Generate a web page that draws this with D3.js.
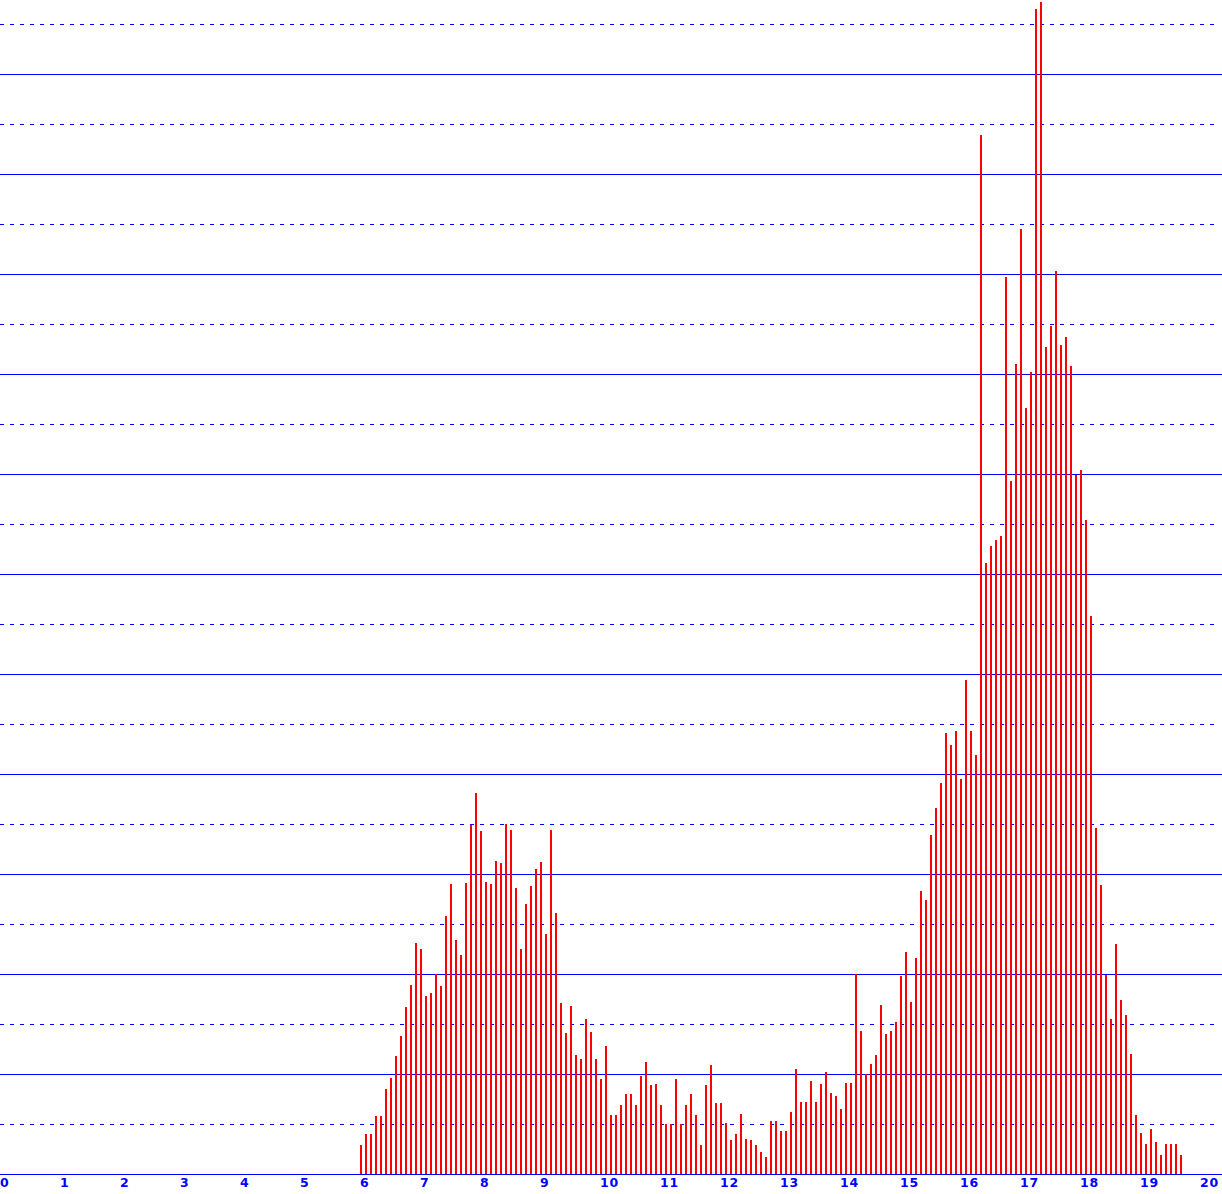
<!DOCTYPE html>
<html>
<head>
<meta charset="utf-8">
<script src="https://cdn.jsdelivr.net/npm/d3@7"></script>
<style>
  html, body { margin: 0; padding: 0; background: #ffffff; }
  svg { display: block; }
</style>
</head>
<body>
<script>
// ---- data ----
const startX = 6;            // first bin position
const binStep = 1 / 12;      // bin width in x units
const values = [
  0.58, 0.8, 0.8, 1.16, 1.16, 1.7, 1.92, 2.36, 2.77, 3.35, 3.78, 4.62, 4.5, 3.56, 3.62, 4.0, 3.76, 5.16, 5.8, 4.68,
  4.38, 5.82, 6.98, 7.62, 6.86, 5.84, 5.8, 6.26, 6.22, 7.0, 6.88, 5.72, 4.5, 5.4, 5.76, 6.1, 6.24, 4.8, 6.88, 5.22, 3.42,
  2.82, 3.36, 2.38, 2.3, 3.1, 2.84, 2.3, 1.9, 2.56, 1.18, 1.18, 1.38, 1.6, 1.6, 1.38, 1.96, 2.24, 1.78, 1.8, 1.38, 1.0,
  1.0, 1.9, 1.0, 1.38, 1.6, 1.18, 0.58, 1.78, 2.18, 1.42, 1.42, 1.02, 0.68, 0.8, 1.2, 0.7, 0.68, 0.58, 0.44, 0.34, 1.06,
  1.06, 0.86, 0.86, 1.24, 2.1, 1.44, 1.44, 1.86, 1.44, 1.8, 2.04, 1.62, 1.56, 1.3, 1.82, 1.82, 4.0, 2.86, 2.0, 2.2, 2.38,
  3.38, 2.8, 2.86, 3.04, 3.96, 4.44, 3.44, 4.32, 5.66, 5.48, 6.78, 7.32, 7.82, 8.82, 8.58, 8.86, 7.9, 9.88, 8.86, 8.38,
  20.78, 12.22, 12.56, 12.68, 12.76, 17.94, 13.86, 16.2, 18.9, 15.32, 16.04,
  23.31, 23.44, 16.54, 16.97, 18.06, 16.58, 16.74, 16.16, 13.98, 14.08, 13.08, 11.16,
  6.93, 5.78, 3.98, 3.11, 4.61, 3.49, 3.18, 2.41, 1.19, 0.83, 0.61, 0.91, 0.65, 0.39, 0.61, 0.61, 0.61, 0.39
];
const xTicks = d3.range(0, 21);
const gridValues = d3.range(0, 24);

// ---- layout ----
const W = 1222, H = 1194;
const svg = d3.select("body").append("svg").attr("width", W).attr("height", H);

const x = d3.scaleLinear().domain([0, 20]).range([1, 1201]);
const y = d3.scaleLinear().domain([0, 23.48]).range([1174, 0]);

// gridlines
svg.append("g").selectAll("line")
  .data(gridValues)
  .join("line")
  .attr("x1", 0)
  .attr("x2", d => d % 2 === 0 ? W : 1214)
  .attr("y1", d => Math.round(y(d)) + 0.5)
  .attr("y2", d => Math.round(y(d)) + 0.5)
  .attr("stroke", "#0000ff")
  .attr("stroke-width", 1)
  .attr("stroke-dasharray", d => d % 2 === 0 ? null : "4,6")
  .attr("shape-rendering", "crispEdges");

// bars
svg.append("g").selectAll("rect")
  .data(values)
  .join("rect")
  .attr("x", (d, i) => Math.round(x(startX + i * binStep)) - 1)
  .attr("width", 2)
  .attr("y", d => Math.round(y(d)))
  .attr("height", d => Math.round(y(0)) - Math.round(y(d)))
  .attr("fill", "#ff0000")
  .attr("shape-rendering", "crispEdges");

// x labels
svg.append("g").selectAll("text")
  .data(xTicks)
  .join("text")
  .attr("x", d => x(d) - 1)
  .attr("y", 1187)
  .attr("text-anchor", "start")
  .attr("fill", "#0000ff")
  .attr("font-family", "DejaVu Sans, sans-serif")
  .attr("font-weight", "bold")
  .attr("font-size", 12.5)
  .attr("letter-spacing", 0.8)
  .text(d => d);
</script>
</body>
</html>
